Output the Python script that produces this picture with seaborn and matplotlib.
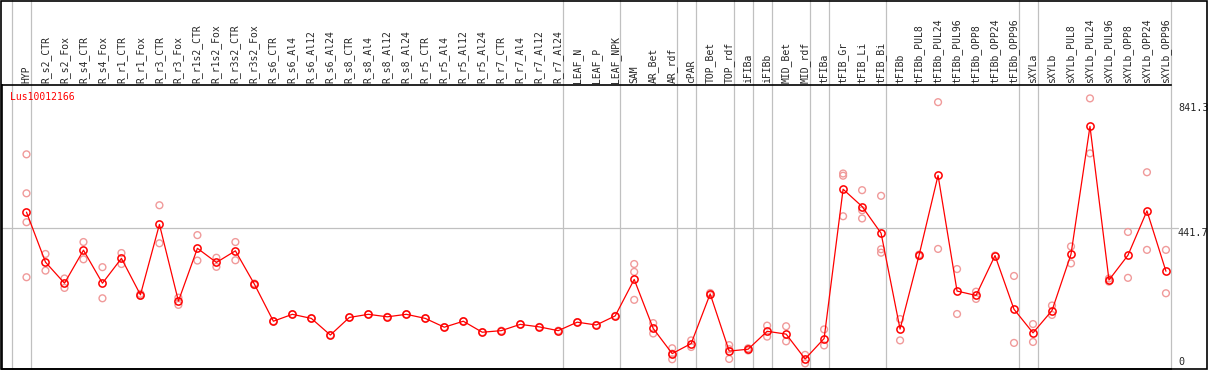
import matplotlib
matplotlib.use("Agg")
import matplotlib.pyplot as plt
import matplotlib.transforms as mtransforms
from matplotlib.patches import Rectangle
import pandas as pd
import seaborn as sns

GENE = "Lus10012166"

CATEGORIES = [
    "HYP", "R_s2_CTR", "R_s2_Fox", "R_s4_CTR", "R_s4_Fox", "R_r1_CTR", "R_r1_Fox",
    "R_r3_CTR", "R_r3_Fox", "R_r1s2_CTR", "R_r1s2_Fox", "R_r3s2_CTR", "R_r3s2_Fox",
    "R_s6_CTR", "R_s6_Al4", "R_s6_Al12", "R_s6_Al24", "R_s8_CTR", "R_s8_Al4",
    "R_s8_Al12", "R_s8_Al24", "R_r5_CTR", "R_r5_Al4", "R_r5_Al12", "R_r5_Al24",
    "R_r7_CTR", "R_r7_Al4", "R_r7_Al12", "R_r7_Al24", "LEAF_N", "LEAF_P", "LEAF_NPK",
    "SAM", "AR_Bet", "AR_rdf", "cPAR", "TOP_Bet", "TOP_rdf", "iFIBa", "iFIBb",
    "MID_Bet", "MID_rdf", "tFIBa", "tFIB_Gr", "tFIB_Li", "tFIB_Bi", "tFIBb",
    "tFIBb_PUL8", "tFIBb_PUL24", "tFIBb_PUL96", "tFIBb_OPP8", "tFIBb_OPP24",
    "tFIBb_OPP96", "sXYLa", "sXYLb", "sXYLb_PUL8", "sXYLb_PUL24", "sXYLb_PUL96",
    "sXYLb_OPP8", "sXYLb_OPP24", "sXYLb_OPP96",
]

MEANS = [
    493, 334, 267, 372, 267, 346, 230, 454, 210, 378, 333, 370, 264,
    146, 168, 155, 102, 158, 168, 160, 168, 155, 127, 146, 111,
    116, 136, 128, 116, 143, 134, 163,
    279, 123, 43, 75, 233, 51, 57, 114, 105, 26, 91,
    566, 511, 426, 121, 356, 610, 242, 228, 355, 184,
    109, 180, 359, 766, 277, 356, 497, 305,
]

REPLICATES = [
    [677, 553, 461, 286], [360, 307], [282, 252], [398, 343], [318, 219],
    [363, 328], [233, 227], [515, 394], [221, 198], [420, 339], [348, 319],
    [398, 340], [266, 261],
    [146], [168], [155], [102], [158], [168], [160], [168], [155], [127],
    [146], [111], [116], [136], [128], [116], [143], [134], [163],
    [328, 303, 214], [140, 107], [60, 43, 25], [85, 64], [236, 229],
    [70, 26, 57], [60, 53], [132, 97], [130, 82], [39, 12], [120, 69],
    [616, 609, 480], [563, 499, 473], [545, 375, 364], [153, 85], [358, 353],
    [843, 376], [312, 169], [240, 217], [355], [290, 77],
    [137, 80], [196, 166], [384, 330], [855, 680], [282, 272], [430, 284],
    [620, 373], [373, 235],
]

# index of the last sample in each tissue group (separator drawn just after it)
GROUP_ENDS = [-1, 0, 28, 31, 34, 35, 37, 38, 39, 41, 42, 45, 52, 53, 60]

Y_TICKS = [841.3, 441.7, 0]

mean_df = pd.DataFrame({"x": range(len(CATEGORIES)), "value": MEANS})
rep_df = pd.DataFrame(
    [(i, v) for i, vals in enumerate(REPLICATES) for v in vals],
    columns=["x", "value"],
)

sns.set_style("white")
plt.rcParams["font.family"] = ["DejaVu Sans Mono"]

W, H = 1209, 370
fig = plt.figure(figsize=(W / 100, H / 100), dpi=100)
# plot area in pixels: x 1.5..1170.5, y 85..369 (from top)
ax = fig.add_axes([1.5 / W, 1 - 369 / H, 1169 / W, 284 / H])

grid_c = "#c0c0c0"
ext = 1 + 85 / 284
for e in GROUP_ENDS:
    ax.axvline(e + 0.25, ymin=0, ymax=ext, color=grid_c, lw=0.9,
               clip_on=False, zorder=0)
ax.axhline(Y_TICKS[1], xmin=0, xmax=1.006, color=grid_c, lw=0.9,
           clip_on=False, zorder=0)

sns.scatterplot(data=rep_df, x="x", y="value", ax=ax, marker="o",
                facecolor="none", edgecolor="#f09a9a", linewidth=1.0,
                s=24, zorder=2, legend=False)
sns.lineplot(data=mean_df, x="x", y="value", ax=ax, color="red", lw=0.9,
             marker="o", markersize=5.2, markerfacecolor="none",
             markeredgecolor="red", markeredgewidth=1.1, zorder=3)

ax.set_xlim(-1.316, 60.24)
ax.set_ylim(-6, 897.6)
ax.set_xlabel("")
ax.set_ylabel("")
ax.set_yticks([])
ax.set_xticks(range(len(CATEGORIES)))
ax.set_xticklabels(CATEGORIES, rotation=90, fontsize=7)
ax.xaxis.tick_top()
ax.tick_params(axis="x", length=0, pad=1.5)

for side in ["left", "top", "bottom"]:
    ax.spines[side].set_color("black")
    ax.spines[side].set_linewidth(1.2)
ax.spines["right"].set_visible(False)

ax.text(0.0073, 0.975, GENE, transform=ax.transAxes, color="red",
        fontsize=7, ha="left", va="top")

trans = mtransforms.blended_transform_factory(ax.transAxes, ax.transData)
for v in Y_TICKS:
    label = f"{v:g}" if v == 0 else f"{v:.1f}"
    ax.text(1.0064, v, label, transform=trans, fontsize=7.3, ha="left",
            va="bottom" if v == 0 else "top", clip_on=False)

fig.add_artist(Rectangle((1 / W, 1 - 369 / H), 1206 / W, 368.5 / H,
                         transform=fig.transFigure, fill=False,
                         edgecolor="black", lw=1.2))

fig.savefig("out.png", dpi=100)
